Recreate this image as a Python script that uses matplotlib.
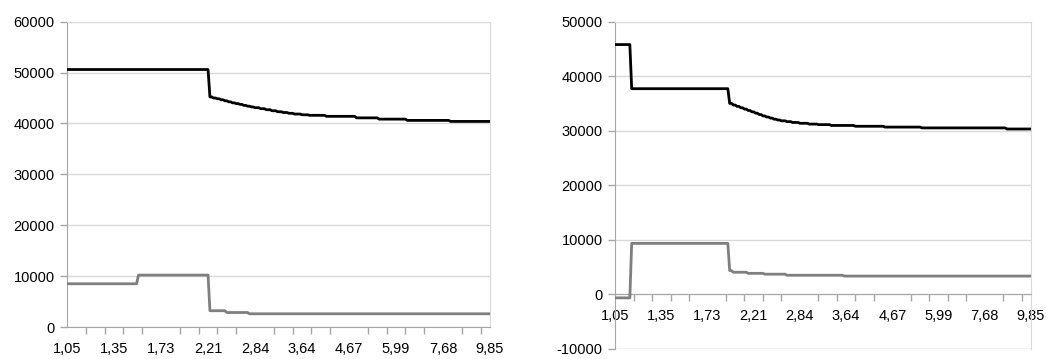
import numpy as np
import matplotlib
matplotlib.use("Agg")
import matplotlib.pyplot as plt

plt.rcParams['font.family'] = ['Liberation Sans', 'DejaVu Sans']
plt.rcParams['axes.unicode_minus'] = False

# ----------------------------
# Datos
# ----------------------------
n_cat = 226
tick_labels = ["1,05", "1,35", "1,73", "2,21", "2,84", "3,64", "4,67", "5,99", "7,68", "9,85"]

# tramos: (indice de inicio, valor)
izq_negro = [(0, 50600), (76, 45200), (78, 45000), (80, 44850), (82, 44650), (84, 44450),
             (86, 44250), (88, 44050), (90, 43900), (92, 43750), (94, 43550), (96, 43400),
             (98, 43250), (100, 43100), (103, 42900), (106, 42700), (109, 42500),
             (112, 42300), (115, 42150), (118, 42000), (121, 41850), (125, 41700),
             (129, 41600), (138, 41400), (154, 41100), (166, 40850), (181, 40600),
             (204, 40400)]
izq_gris = [(0, 8500), (38, 10200), (76, 3200), (85, 2850), (97, 2600)]

der_negro = [(0, 45800), (9, 37700), (62, 35000), (64, 34700), (66, 34450), (68, 34200),
             (70, 33950), (72, 33700), (74, 33450), (76, 33200), (78, 32950), (80, 32700),
             (82, 32500), (84, 32300), (86, 32100), (88, 31950), (90, 31800), (93, 31650),
             (96, 31500), (100, 31350), (105, 31200), (110, 31100), (117, 30950),
             (130, 30800), (146, 30650), (166, 30500), (212, 30300)]
der_gris = [(0, -700), (9, 9300), (62, 4300), (64, 4000), (72, 3800), (81, 3650),
            (93, 3450), (124, 3300)]


def expandir(tramos):
    inicios = [t[0] for t in tramos] + [n_cat]
    valores = [t[1] for t in tramos]
    largos = np.diff(inicios)
    return np.repeat(valores, largos)


GRID = '#d9d9d9'
AXIS = '#a6a6a6'


def dibujar(ax, negro, gris, ymin, ymax):
    x = np.arange(n_cat)
    ax.plot(x, expandir(negro), color='black', lw=2.0, zorder=3)
    ax.plot(x, expandir(gris), color='#7f7f7f', lw=2.0, zorder=3)
    ax.set_xlim(0, n_cat - 1)
    ax.set_ylim(ymin, ymax)
    ax.set_yticks(np.arange(ymin, ymax + 1, 10000))
    ax.grid(axis='y', color=GRID, lw=1.0, zorder=0)
    ax.set_axisbelow(True)

    ax.set_xticks(np.arange(0, n_cat, 25))
    ax.set_xticklabels(tick_labels)
    ax.set_xticks(np.arange(0, n_cat, 10), minor=True)
    ax.tick_params(axis='x', which='major', length=0, pad=11, labelsize=10.5)
    ax.tick_params(axis='x', which='minor', length=5, color=AXIS, width=1)
    ax.tick_params(axis='y', length=5, color=AXIS, width=1, pad=4, labelsize=10.5)

    for s in ['top', 'right']:
        ax.spines[s].set_color(GRID)
    for s in ['left', 'bottom']:
        ax.spines[s].set_color(AXIS)


fig = plt.figure(figsize=(10.46, 3.59), dpi=100)
ax1 = fig.add_axes([0.0641, 0.0891, 0.4044, 0.8505])
ax2 = fig.add_axes([0.588, 0.0292, 0.3977, 0.9104])

dibujar(ax1, izq_negro, izq_gris, 0, 60000)
dibujar(ax2, der_negro, der_gris, -10000, 50000)
ax2.spines['bottom'].set_position(('data', 0))
ax2.axhline(-10000, color=GRID, lw=1.0, zorder=0)

fig.savefig("out.png", dpi=100)
